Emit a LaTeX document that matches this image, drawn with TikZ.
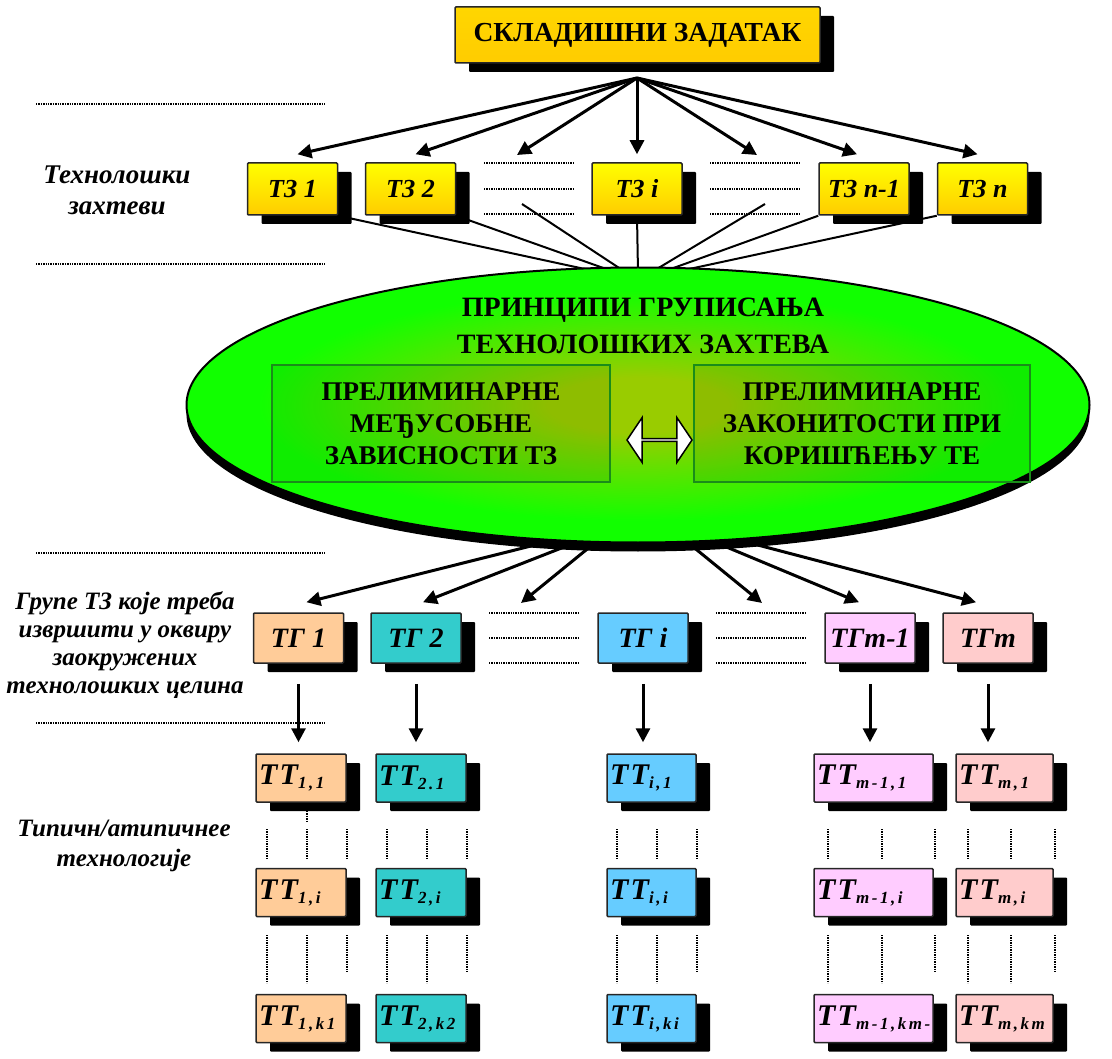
\documentclass[tikz,border=0pt]{standalone}
\usepackage{fontspec}
\setmainfont{Liberation Serif}
\usetikzlibrary{arrows.meta,shapes.geometric,shapes.arrows,shadows}
\definecolor{olv}{HTML}{99CC00}
\definecolor{lgr}{HTML}{11FF00}
\definecolor{gold}{HTML}{FFCC00}
\definecolor{tgone}{HTML}{FFCC99}
\definecolor{tgtwo}{HTML}{33CCCC}
\definecolor{tgi}{HTML}{66CCFF}
\definecolor{tgmm}{HTML}{FFCCFF}
\definecolor{tgm}{HTML}{FFCCCC}
\definecolor{inbord}{HTML}{1A8C1A}
\pgfdeclareradialshading{grpshade}{\pgfpoint{0bp}{0bp}}{color(0bp)=(olv); color(5bp)=(olv); color(21bp)=(lgr); color(50bp)=(lgr)}
\pgfdeclarelayer{bg}
\pgfsetlayers{bg,main}
\newcommand{\TTsub}[1]{{\addfontfeatures{LetterSpace=8}ТТ}\raisebox{-4pt}{\fontsize{17pt}{17pt}\selectfont\addfontfeatures{LetterSpace=15}#1}}

\begin{document}
\begin{tikzpicture}[x=1pt,y=-1pt,
  box/.style={draw=black!85, line width=1.5pt, rounded corners=1pt, inner sep=0pt,
    font=\fontsize{26pt}{26pt}\selectfont\bfseries\itshape,
    drop shadow={fill=black, opacity=1, shadow xshift=14pt, shadow yshift=-9pt}},
  tz/.style={box, top color=yellow, bottom color=gold, minimum width=90pt, minimum height=52pt},
  tg/.style={box, fill=#1, minimum width=90pt, minimum height=50pt,
    font=\fontsize{28pt}{28pt}\selectfont\bfseries\itshape},
  tt/.style={box, fill=#1, minimum height=48pt, inner xsep=3pt, align=left,
    font=\fontsize{30pt}{30pt}\selectfont\bfseries\itshape},
  arr/.style={-{Triangle[length=14pt,width=14pt]}, line width=3pt},
  lnk/.style={line width=2pt},
  dots/.style={line width=1.7pt, dash pattern=on 1.4pt off 1pt},
  side/.style={align=center, font=\fontsize{25pt}{28pt}\selectfont\bfseries\itshape},
  caps/.style={align=center, font=\fontsize{27pt}{32pt}\selectfont\bfseries},
  inbox/.style={caps, draw=inbord, line width=1.5pt, fill=black, fill opacity=0.07, text opacity=1,
    minimum width=338pt, minimum height=117pt}]
\useasboundingbox (0,0) rectangle (1112,1059);

\node[box, top color=gold!80!yellow, bottom color=gold, minimum width=365pt, minimum height=56pt,
  font=\fontsize{27.5pt}{27pt}\selectfont\bfseries] (task) at (637.5,35) {СКЛАДИШНИ ЗАДАТАК};

\node[tz] (tz1) at (292.5,189) {ТЗ 1};
\node[tz] (tz2) at (410.5,189) {ТЗ 2};
\node[tz] (tzi) at (637,189) {ТЗ i};
\node[tz] (tzn1) at (864,189) {ТЗ n-1};
\node[tz] (tzn) at (982.5,189) {ТЗ n};

\coordinate (src) at (637,78);
\coordinate (tzdl) at (517,155);
\coordinate (tzdr) at (757,155);
\coordinate (tzdlb) at (522,204);
\coordinate (tzdrb) at (765,204);

\node[ellipse, draw=black, line width=2pt, shade, shading=grpshade, minimum width=903pt, minimum height=275pt,
  inner sep=0pt, drop shadow={fill=black, opacity=1, shadow xshift=0pt, shadow yshift=-9pt}] (grp) at (638,405) {};
\node[caps, font=\fontsize{28pt}{37pt}\selectfont\bfseries] (grpttl) at (643,326) {ПРИНЦИПИ ГРУПИСАЊА\\ТЕХНОЛОШКИХ ЗАХТЕВА};
\node[inbox] (prel) at (441,423.5) {ПРЕЛИМИНАРНЕ\\МЕЂУСОБНЕ\\ЗАВИСНОСТИ ТЗ};
\node[inbox, minimum width=336pt] (prer) at (862,423.5) {ПРЕЛИМИНАРНЕ\\ЗАКОНИТОСТИ ПРИ\\КОРИШЋЕЊУ ТЕ};
\node[double arrow, draw=black, fill=white, line width=1.5pt, minimum height=65pt, minimum width=45pt,
  double arrow head extend=11pt, double arrow head indent=0pt, double arrow tip angle=112,
  inner sep=0pt] (dbl) at (659.5,440) {};

\node[tg=tgone] (tg1) at (298.5,638) {ТГ 1};
\node[tg=tgtwo] (tg2) at (416,638) {ТГ 2};
\node[tg=tgi] (tgi) at (643,638) {ТГ i};
\node[tg=tgmm] (tgm1) at (870,638) {ТГm-1};
\node[tg=tgm] (tgm) at (988,638) {ТГm};

\coordinate (tgdl) at (521,603);
\coordinate (tgdr) at (762,603);

\node[tt=tgone, text width=84pt] (tt11) at (301,778) {\TTsub{1,1}};
\node[tt=tgtwo, text width=84pt] (tt21) at (421,778) {\TTsub{2.1}};
\node[tt=tgi, text width=83pt] (tti1) at (651.5,778) {\TTsub{i,1}};
\node[tt=tgmm, text width=113pt] (ttm11) at (873.5,778) {\TTsub{m-1,1}};
\node[tt=tgm, text width=91pt] (ttm1) at (1004.5,778) {\TTsub{m,1}};

\node[tt=tgone, text width=84pt] (tt1i) at (301,892.5) {\TTsub{1,i}};
\node[tt=tgtwo, text width=84pt] (tt2i) at (421,892.5) {\TTsub{2,i}};
\node[tt=tgi, text width=83pt] (ttii) at (651.5,892.5) {\TTsub{i,i}};
\node[tt=tgmm, text width=113pt] (ttm1i) at (873.5,892.5) {\TTsub{m-1,i}};
\node[tt=tgm, text width=91pt] (ttmi) at (1004.5,892.5) {\TTsub{m,i}};

\node[tt=tgone, text width=84pt] (tt1k) at (301,1018.5) {\TTsub{1,k1}};
\node[tt=tgtwo, text width=84pt] (tt2k) at (421,1018.5) {\TTsub{2,k2}};
\node[tt=tgi, text width=83pt] (ttik) at (651.5,1018.5) {\TTsub{i,ki}};
\node[tt=tgmm, text width=113pt] (ttm1k) at (873.5,1018.5) {\TTsub{m-1,km-}};
\node[tt=tgm, text width=91pt] (ttmk) at (1004.5,1018.5) {\TTsub{m,km}};

\node[side, font=\fontsize{27pt}{31pt}\selectfont\bfseries\itshape] (lbltz) at (117,190) {Технолошки\\захтеви};
\node[side] (lbltg) at (125,645) {Групе ТЗ које треба\\извршити у оквиру\\заокружених\\технолошких целина};
\node[side, font=\fontsize{25pt}{30pt}\selectfont\bfseries\itshape] (lbltt) at (124,846) {Типичн/атипичнее\\технологије};

\foreach \y in {104,264,553,723} \draw[dots] (36,\y) -- (326,\y);
\foreach \y in {163,189,214} {\draw[dots] (484,\y) -- (574,\y); \draw[dots] (710,\y) -- (800,\y);}
\foreach \y in {613,638,663} {\draw[dots] (489,\y) -- (580,\y); \draw[dots] (716,\y) -- (806,\y);}
\foreach \x in {267,307,347,387,427,467,617,657,697,828,882,935,968,1011,1055} \draw[dots] (\x,829) -- (\x,859);
\foreach \x in {267,307,387,427,617,657,828,882,968,1011} \draw[dots] (\x,935) -- (\x,983);
\foreach \x in {347,467,697,935,1055} \draw[dots] (\x,935) -- (\x,973);
\draw[dots] (307,811) -- (307,822);

\begin{pgfonlayer}{bg}
\draw[arr] (src) -- ([xshift=5pt,yshift=8pt]tz1.north);
\draw[arr] (src) -- ([xshift=5pt,yshift=8pt]tz2.north);
\draw[arr] (src) -- (tzdl);
\draw[arr] (src) -- ([yshift=8pt]tzi.north);
\draw[arr] (src) -- (tzdr);
\draw[arr] (src) -- ([xshift=-7pt,yshift=8pt]tzn1.north);
\draw[arr] (src) -- ([xshift=-5pt,yshift=8pt]tzn.north);

\draw[lnk] (tz1.south east) -- ([xshift=-37pt,yshift=-6pt]grp.north);
\draw[lnk] (tz2.south east) -- ([xshift=-22pt,yshift=-6pt]grp.north);
\draw[lnk] (tzdlb) -- ([xshift=-12pt,yshift=-6pt]grp.north);
\draw[lnk] (tzi.south) -- ([yshift=-6pt]grp.north);
\draw[lnk] (tzdrb) -- ([xshift=13pt,yshift=-6pt]grp.north);
\draw[lnk] (tzn1.south west) -- ([xshift=23pt,yshift=-6pt]grp.north);
\draw[lnk] (tzn.south west) -- ([xshift=35pt,yshift=-6pt]grp.north);

\draw[arr] ([xshift=-97pt]grp.south) -- ([xshift=8pt,yshift=10pt]tg1.north);
\draw[arr] ([xshift=-65pt]grp.south) -- ([xshift=7pt,yshift=10pt]tg2.north);
\draw[arr] ([xshift=-44pt]grp.south) -- (tgdl);
\draw[arr] ([xshift=51pt]grp.south) -- (tgdr);
\draw[arr] ([xshift=80pt]grp.south) -- ([xshift=-11pt,yshift=10pt]tgm1.north);
\draw[arr] ([xshift=114pt]grp.south) -- ([xshift=-12pt,yshift=10pt]tgm.north);

\draw[arr, shorten <=20pt, shorten >=11pt] (tg1.south) -- (tg1.south |- tt11.north);
\draw[arr, shorten <=20pt, shorten >=11pt] (tg2.south) -- (tg2.south |- tt21.north);
\draw[arr, shorten <=20pt, shorten >=11pt] (tgi.south) -- (tgi.south |- tti1.north);
\draw[arr, shorten <=20pt, shorten >=11pt] (tgm1.south) -- (tgm1.south |- ttm11.north);
\draw[arr, shorten <=20pt, shorten >=11pt] (tgm.south) -- (tgm.south |- ttm1.north);
\end{pgfonlayer}
\end{tikzpicture}
\end{document}
